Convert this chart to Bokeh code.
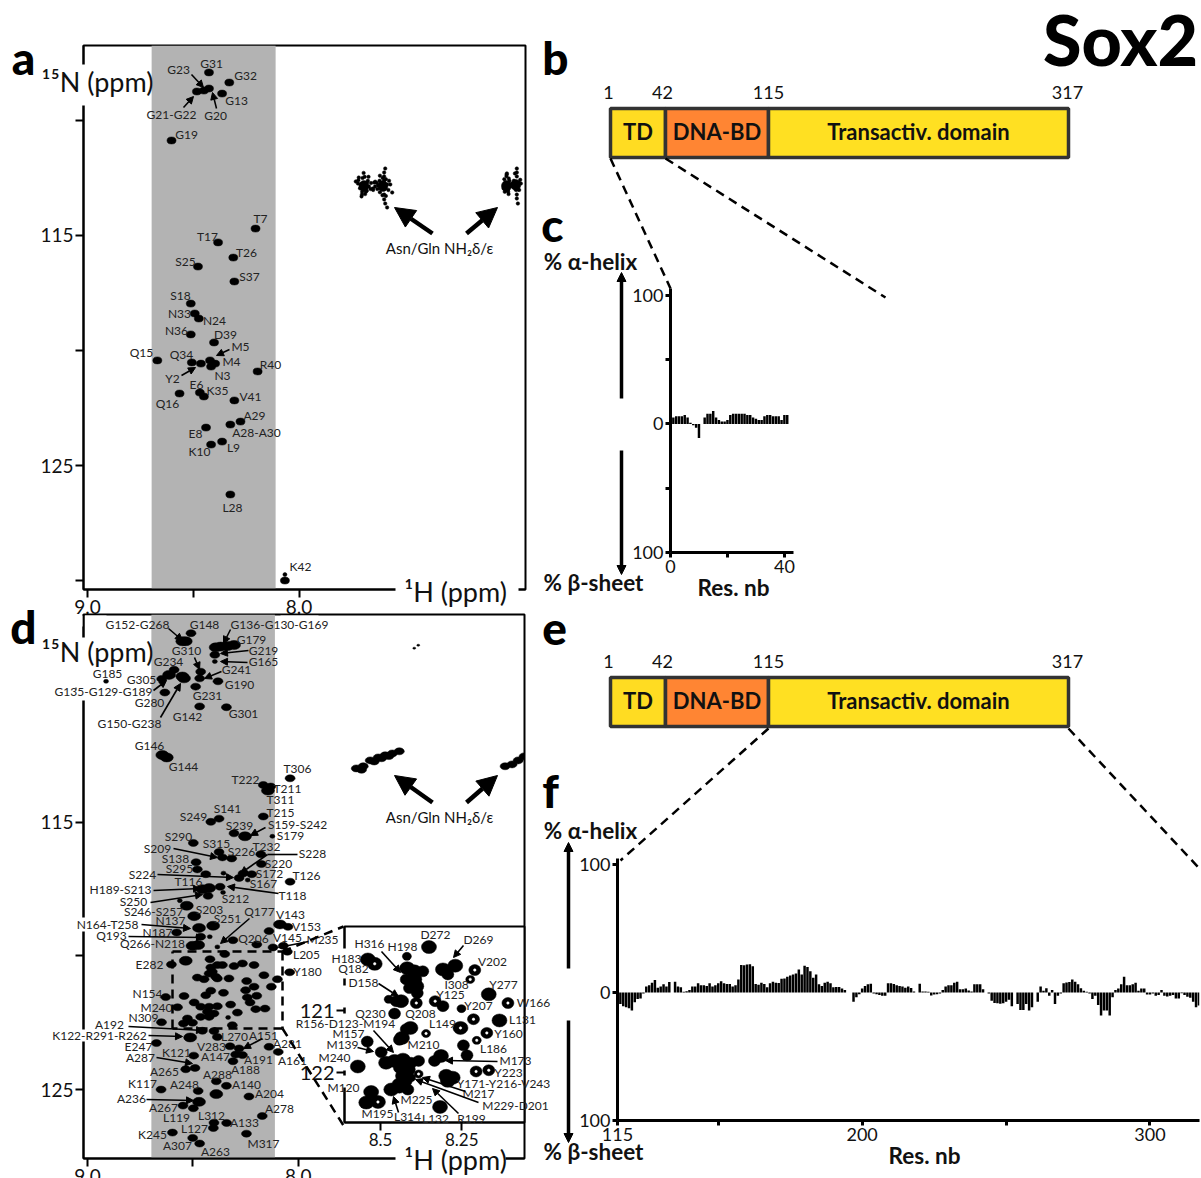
from bokeh.plotting import figure
from bokeh.layouts import column
from bokeh.models import Range1d, FixedTicker, BoxAnnotation, Arrow, NormalHead, ColumnDataSource
from bokeh.core.properties import value
from bokeh.embed import file_html
from bokeh.resources import INLINE

FONT = "Lato"
HEAVY = "Lato Black, Lato"
OFF = 0

# ---------- panel a: 1H / 15N peaks (ppm)
a_h = [8.426,8.330,8.364,8.426,8.450,8.483,8.603,8.206,8.383,8.311,8.478,8.306,8.512,8.493,8.474,8.512,8.402,8.670,8.507,8.464,8.421,8.397,8.416,8.196,8.565,8.469,8.450,8.306,8.277,8.325,8.440,8.364,8.416,8.325,8.067]
a_n = [107.91,108.35,108.83,108.61,108.70,108.74,110.87,114.70,115.30,115.96,116.35,117.00,117.96,118.39,118.61,119.30,119.65,120.43,120.52,120.57,120.43,120.57,120.70,120.91,121.87,121.83,122.00,122.17,123.09,123.22,123.35,123.96,124.09,126.26,130.00]
a_small_h = [8.067]
a_small_n = [129.74]
a_nh2_h = [7.694,7.679,7.694,7.708,7.670,7.612,7.598,7.584,7.612,7.593,7.627,7.598,7.598,7.593,7.598,7.598,7.593,7.584,7.722,7.732,7.569,7.560,7.641,7.651,7.703,7.684,7.718,7.024,7.014,7.024,7.033,7.009,7.019,6.976,6.962,6.976,6.990,6.952,6.971,6.971,6.971,6.971,6.971,6.966,
           7.720,7.712,7.702,7.690,7.675,7.662,7.650,7.640,7.630,7.620,7.605,7.590,7.578,7.700,7.688,7.672,7.660,7.645,7.632,7.618,7.606,7.575,7.695,7.705,7.680,7.618,7.606,7.590,7.030,7.020,7.010,6.995,6.985,6.975,6.965,6.955,7.028,7.012,6.980,6.960,7.018,7.006]
a_nh2_n = [112.78,112.70,112.91,112.78,112.87,112.74,112.61,112.78,112.96,112.96,112.83,112.43,112.26,112.09,113.22,113.43,113.61,113.78,112.74,112.65,112.78,113.13,112.87,112.96,113.22,113.09,112.48,112.87,113.04,112.70,112.96,112.52,112.35,112.78,112.70,112.96,112.87,112.74,112.43,112.26,112.09,113.22,113.39,113.61,
           112.60,112.95,113.10,112.45,112.62,112.98,113.02,112.66,112.98,112.62,112.50,112.55,113.02,112.50,113.20,112.45,112.72,112.70,112.72,112.40,112.75,112.62,112.28,113.30,113.05,113.12,113.25,113.28,112.55,112.42,113.20,112.75,112.62,113.02,113.00,112.58,113.10,113.10,112.30,113.02,112.30,112.62]
a_core_h = [7.694,7.604,7.020,6.976]
a_core_n = [112.85,112.85,112.85,112.80]

# ---------- panel d peaks (ppm), by apparent peak size
d_wide_h = [8.534,8.550,8.368,8.336,8.305,8.392,8.613,8.550,8.542,8.645,8.624,8.144,8.253,8.423,8.455,8.529,8.494,8.404,8.471,8.087,8.502,8.475,8.534,8.513,8.389,8.471]
d_wide_n = [108.22,108.22,108.42,108.40,108.36,108.45,109.48,109.54,109.61,112.48,112.57,113.81,115.52,117.46,117.50,118.12,118.51,118.87,118.95,118.82,119.62,119.59,120.18,123.05,125.17,125.46]
d_small_h = [8.396,8.912,8.355,8.240,8.123,8.357,8.562,8.420,8.384,8.333]
d_small_n = [108.98,109.72,116.90,117.16,115.52,117.62,117.93,119.28,119.66,122.30]
d_med_h = [8.509,8.396,8.463,8.468,8.381,8.487,8.468,8.341,8.589,8.648,8.633,8.039,8.166,8.131,8.166,8.376,8.415,8.305,8.498,8.376,8.360,8.316,8.178,8.175,8.485,8.479,8.439,8.281,8.262,8.221,8.039,8.371,8.428,8.049,8.139,8.577,8.463,8.310,8.197,8.120,8.071,8.052,8.349,8.602,8.041,
           8.419,8.415,8.384,8.360,8.305,8.265,8.210,8.408,8.392,8.423,8.479,8.447,8.384,8.329,8.163,8.099,8.245,8.210,8.250,8.128,8.197,8.242,8.229,8.415,8.439,8.355,8.542,8.629,8.573,8.494,8.321,8.289,8.202,8.158,8.463,8.423,8.384,8.431,8.400,8.463,8.423,8.526,8.545,8.502,8.313,8.455,8.400,8.649,8.384,
           8.324,8.281,8.139,8.095,8.297,8.265,8.310,8.496,8.673,8.534,8.490,8.389,8.341,8.651,8.475,8.234,8.547,8.498,8.171,8.400,8.340,8.403,8.246,8.597,8.501,8.468]
d_med_n = [107.92,108.73,109.36,109.61,109.72,109.92,110.66,110.69,109.29,109.63,110.14,113.35,113.60,113.66,114.78,114.86,114.98,115.41,115.77,116.11,116.31,116.35,116.19,116.56,116.49,116.76,116.94,117.08,116.91,116.94,117.22,117.41,117.75,118.91,119.07,119.12,119.28,119.41,119.57,119.68,119.62,119.84,119.93,120.32,120.61,
           120.12,120.43,120.34,120.34,120.38,120.28,120.34,120.59,120.78,120.66,120.81,120.87,120.84,120.84,120.72,120.87,120.94,121.15,121.28,121.15,121.49,121.55,121.74,121.30,121.47,121.38,121.50,121.54,121.92,121.74,121.82,122.12,121.99,121.97,121.90,121.90,121.88,122.09,122.15,122.28,122.28,122.34,122.53,122.50,122.59,122.80,122.81,122.48,123.03,
           123.38,123.46,123.40,123.59,123.69,123.71,123.94,123.73,123.26,124.24,124.19,124.69,124.86,125.00,125.05,125.26,125.60,125.70,125.99,126.24,126.25,126.44,126.65,126.61,126.81,127.02]
d_nh2_h = [7.725,7.692,7.659,7.621,7.588,7.554,7.521,7.019,6.986,6.957,6.929,7.700,7.640,7.605,7.570]
d_nh2_n = [112.98,112.90,112.68,112.57,112.49,112.42,112.34,112.90,112.83,112.68,112.53,113.03,112.72,112.60,112.52]
d_top_h = [7.450,7.431]
d_top_n = [108.48,108.37]

# ---------- inset peaks (ppm)
ins_large_h = [8.351,8.270,8.308,8.167,8.134,8.254,8.396,8.418,8.396,8.390,8.437,8.408,8.434,8.457,8.431,8.483,8.416,8.298,8.278,8.293,8.431,8.442,8.467,8.529,8.544,8.508,8.317,8.539,8.518,8.570,8.314]
ins_large_n = [119.98,120.28,120.34,120.74,121.16,121.28,120.37,120.32,120.50,120.61,120.85,121.28,121.44,121.81,121.79,121.84,121.95,122.05,122.08,122.13,122.05,122.19,122.27,122.31,122.48,122.47,122.55,120.18,120.25,121.90,121.73]
ins_med_h = [8.293,8.210,8.108,8.214,8.173,8.245,8.234,8.332,8.308,8.390,8.452,8.457,8.370,8.387,8.411,8.421,8.442,8.541,8.498,8.406,8.383,8.442,8.334,8.206,8.167,8.421,8.416,8.442,8.421]
ins_med_n = [120.42,120.35,120.88,121.14,121.36,121.56,121.72,120.85,120.93,120.88,120.85,121.05,120.37,120.72,120.64,121.30,121.47,121.50,121.67,121.84,121.81,121.92,121.81,121.98,121.96,122.13,122.27,122.24,120.50]
ins_small_h = [8.419,8.251,8.204,8.360,8.475,8.406,8.383,8.224]
ins_small_n = [120.13,120.97,121.48,121.37,120.82,122.08,122.02,120.50]
ins_ring_h = [8.254,8.508,8.518,8.210,8.108,8.214,8.173,8.332,8.390,8.206,8.167,8.204,8.360,8.383,8.224]
ins_ring_n = [121.28,122.47,120.25,120.35,120.88,121.14,121.36,120.85,120.88,121.98,121.96,121.48,121.37,122.02,120.50]

# ---------- panel c / f: secondary structure propensity (%)
c_values = [5,6,6,6,7,5,1,-1,-3,-11,0,5,8,8,10,5,3,2,2,3,7,8,8,8,8,8,7,7,5,4,3,3,6,7,7,6,6,6,3,7,7]
f_values = [-9.0,-10.8,-11.5,-12.3,-14.1,-7.7,-5.1,-4.6,-0.8,4.6,5.6,7.7,9.7,3.8,4.6,6.4,4.6,8.2,0,8.4,4.6,4.1,0.5,1,2,4.6,4.6,7.2,5.6,5.6,5.1,7.2,4.6,5.6,7.2,8.7,7.2,6.7,6.7,4.6,5.6,10.2,21.5,21.2,21.8,22,20.5,6.7,6.1,7.7,6.7,4.1,7.2,8.4,7.7,7.4,10.8,11,12.3,13.3,14.1,14.8,17.9,14.1,21,20,16.6,11.5,14.1,6.4,5.1,7.7,8.4,7.2,4.1,4.4,4.4,3.1,2,0,0,-7.2,-3.8,-1.3,3.1,5.1,6.4,6.9,-0.8,-1.3,-2,-2.6,-2.6,7.2,7.2,6.7,5.6,5.1,4.6,3.8,4.6,3.6,0.8,0,6.9,0.8,0.8,0.5,-2.3,-1.5,-1.3,-0.8,2,4.6,5.6,5.6,7.7,8.4,2.6,2.6,3.1,1.5,0.8,6.4,6.4,6.4,2.6,0,-0.8,-6.4,-8.2,-8.4,-8.7,-8.4,-7.2,-5.6,-10.8,0,-9,-13.6,-13.6,-9,-14.1,-11.5,0,-7.2,4.6,1.3,3.3,-2.6,2,-9,-2.6,-0.8,7.2,7.9,8.2,10.2,8.4,6.4,3.3,1.3,0.5,-0.8,-5.1,-2.6,-9.7,-17.9,-14.1,-14.1,-17.9,-3.8,2,3.1,6.4,12.3,5.6,5.6,6.4,7.7,1.3,3.1,3.1,-1.5,-1.5,-0.8,-2.6,-2,2,-2.6,-3.1,-2.6,-2,-4.6,-4.6,-0.5,-2,-3.3,-4.1,-7.2,-11.5,-10.2]
c_res = list(range(1, 1 + len(c_values)))
f_res = list(range(116, 116 + len(f_values)))

# ---------- domain schematic
domain_names = ["TD", "DNA-BD", "Transactiv. domain"]
domain_colors = ["#FFDC22", "#FF8533", "#FFE022"]
domain_numbers = ["1", "42", "115", "317"]

# ---------- annotation texts
a_labels = [("G31",211,63),("G23",178,69),("G32",245,75),("G13",236,100),("G20",215,115),("G21-G22",171,114),("G19",186,134),("T7",260,218),("T17",207,236),("T26",246,252),("S25",185,261),("S37",249,276),("S18",180,295),("N33",179,313),("N24",214,320),("N36",176,330),("D39",225,334),("M5",240,346),("Q15",141,352),("Q34",181,354),("M4",231,361),("R40",270,364),("Y2",172,378),("N3",222,375),("E6",196,384),("K35",217,390),("Q16",167,403),("V41",250,396),("A29",254,415),("A28-A30",256,432),("E8",195,433),("K10",199,451),("L9",233,447),("L28",232,507),("K42",300,566)]
d_labels = [("G152-G268",137,624),("G148",204,624),("G136-G130-G169",279,624),("G179",251,639),("G310",186,650),("G219",263,650),("G165",263,661),("G234",168,661),("G241",236,669),("G185",107,673),("G305",141,679),("G190",239,684),("G135-G129-G189",103,691),("G231",207,695),("G280",149,702),("G142",187,716),("G301",243,713),("G150-G238",129,723),("G146",149,745),("G144",183,766),("T306",297,768),("T222",245,779),("T211",287,788),("T311",280,799),("T215",280,812),("S141",227,808),("S249",193,816),("S239",239,825),("S159-S242",297,824),("S179",290,835),("S290",178,836),("S315",216,843),("S209",157,848),("S226",241,851),("T232",266,846),("S228",312,853),("S138",175,858),("S220",278,863),("S295",179,868),("S172",269,873),("T126",306,875),("S224",142,874),("T116",188,881),("S167",263,883),("H189-S213",120,889),("T118",292,895),("S250",133,901),("S212",235,898),("S246-S257",153,911),("S203",209,909),("Q177",259,911),("V143",290,914),("S251",227,918),("N137",170,920),("V153",306,926),("N164-T258",107,924),("N187",157,932),("Q193",111,935),("V145",287,937),("Q206",253,938),("M235",322,939),("Q266-N218",152,943),("L205",306,954),("E282",149,964),("Y180",307,971),("N154",147,993),("M240",156,1007),("N309",143,1017),("A192",109,1024),("K122-R291-R262",99,1035),("L270",234,1036),("A151",263,1035),("A281",287,1043),("E247",138,1046),("V283",211,1046),("K121",176,1052),("A147",215,1056),("A287",140,1057),("A191",258,1059),("A161",292,1060),("A188",245,1069),("A265",164,1071),("A288",217,1074),("K117",142,1083),("A248",184,1084),("A140",246,1084),("A204",269,1093),("A236",131,1098),("A267",163,1107),("A278",279,1108),("L119",176,1117),("L312",211,1115),("A133",244,1122),("L127",194,1128),("K245",152,1134),("M317",263,1143),("A307",177,1145),("A263",215,1151)]
inset_labels = [("D272",435,934),("D269",478,939),("H316",369,943),("H198",402,946),("V202",492,961),("H183",346,958),("Q182",353,968),("Y277",503,984),("I308",456,984),("D158",363,982),("Y125",450,994),("Y207",478,1005),("W166",533,1002),("Q230",370,1013),("Q208",420,1013),("L149",442,1023),("L131",522,1019),("R156-D123-M194",345,1023),("Y160",508,1033),("M157",348,1033),("M139",342,1044),("M210",423,1044),("L186",493,1048),("M173",515,1060),("M240",334,1057),("Y223",508,1072),("Y171-Y216-V243",503,1083),("M120",343,1087),("M217",478,1093),("M229-D201",515,1105),("M225",416,1099),("R199",471,1118),("M195",377,1113),("L314",407,1116),("L132",435,1118)]

thin_arrows = [(191,74,203,87),(183,107,193,96),(216,108,212,92),(229,349,216,355),(181,375,195,367),
  (168,628,182,640),(230,629,223,643),(248,650,220,653),(247,662,220,661),(194,657,199,669),(221,671,204,678),(153,690,166,680),(160,717,180,683),(265,827,250,835),(173,848,217,857),(267,854,240,873),(157,874,233,877),(153,890,200,888),(278,893,227,886),(150,902,202,894),(141,924,190,928),(128,936,203,937),(249,918,220,943),(308,941,278,947),(128,1026,203,1030),(148,1035,182,1036),(262,1038,243,1048),(156,1057,192,1063),(146,1099,193,1100),
  (463,945,453,957),(381,951,400,972),(378,983,398,996),(373,1030,393,1052),(357,1047,373,1051),(497,1061,445,1060),(465,1091,422,1077),(478,1102,415,1079),(458,1113,432,1088),(398,1112,393,1096)]
big_arrows = [(432,233,394,207),(466,233,497,207),(432,802,394,775),(466,802,497,775)]
axis_arrows = [(621,398,621,272),(621,450,621,574),(568,968,568,842),(568,1020,568,1142)]
dashed = [(610,158,670,288),(665,158,885,297),(768,728,620,860),(1068,728,1198,867),
          (172,951,282,951),(282,951,282,1028),(282,1028,172,1028),(172,1028,172,951),(282,951,343,926),(282,1028,343,1125)]
white_gaps = [(76,64,92,105),(76,637,92,700),(395,584,518,596),(395,1153,505,1165),
              (339,948,347,978),(339,985,347,1007),(339,1013,347,1070),(339,1075,347,1087),
              (70,615,82,626),(84.5,615,106,626),(280,615,318,626),(80,917,86,931),(80,1029,86,1041)]


def place(fig, x, y):
    fig.frame_align = False
    fig.margin = (y - OFF, 0, -(y - OFF + fig.height), x - OFF)
    return fig


def style_axis(ax, ticks, labels, size="19px", width=2, out=8):
    ax.ticker = FixedTicker(ticks=ticks)
    ax.major_label_overrides = labels
    ax.major_tick_in = 0
    ax.major_tick_out = out
    ax.minor_tick_line_color = None
    ax.axis_line_width = width
    ax.major_tick_line_width = width
    ax.axis_line_color = "black"
    ax.major_tick_line_color = "black"
    ax.major_label_text_font = FONT
    ax.major_label_text_font_size = size
    ax.major_label_text_color = "#111111"
    ax.major_label_standoff = 2


def spectrum(x0, y0, w, h, bl, br, bt, bb, xr, yr):
    p = figure(width=w, height=h, x_range=Range1d(*xr), y_range=Range1d(*yr), toolbar_location=None,
               output_backend="svg", min_border_left=bl, min_border_right=br, min_border_top=bt, min_border_bottom=bb,
               background_fill_color=None, border_fill_color=None)
    p.grid.visible = False
    p.outline_line_color = "black"
    p.outline_line_width = 2
    p.outline_line_alpha = 1
    return place(p, x0, y0)


def blobs(p, h, n, w, ht, color="black"):
    p.ellipse(x=h, y=n, width=w, height=ht, width_units="screen", height_units="screen",
              fill_color=color, line_color=color, line_width=0.5)


PPM_X = [9.0, 8.5, 8.0]
PPM_X_LAB = {9.0: "9.0", 8.5: "", 8.0: "8.0"}

# panel a  (frame 83..525 x 45..589)
pa = spectrum(8, 30, 522, 594, 75, 5, 15, 35, (9.019, 6.93), (130.39, 106.74))
pa.add_layout(BoxAnnotation(left=8.697, right=8.111, fill_color="#b3b3b3", fill_alpha=1, line_color=None, level="underlay"))
style_axis(pa.xaxis[0], PPM_X, PPM_X_LAB)
style_axis(pa.yaxis[0], [110, 115, 120, 125, 130], {110: "", 115: "115", 120: "", 125: "125", 130: ""})
blobs(pa, a_h, a_n, 9, 7)
blobs(pa, a_small_h, a_small_n, 4, 4)
blobs(pa, a_nh2_h, a_nh2_n, 3.5, 3.5)
blobs(pa, a_core_h, a_core_n, 10, 11)

# panel d  (frame 83..524 x 614..1158)
pd = spectrum(8, 600, 522, 593, 75, 6, 14, 35, (9.019, 6.927), (127.58, 107.22))
pd.add_layout(BoxAnnotation(left=8.697, right=8.111, fill_color="#b3b3b3", fill_alpha=1, line_color=None, level="underlay"))
style_axis(pd.xaxis[0], PPM_X, PPM_X_LAB)
style_axis(pd.yaxis[0], [110, 115, 120, 125], {110: "", 115: "115", 120: "", 125: "125"})
blobs(pd, d_wide_h, d_wide_n, 13, 9)
blobs(pd, d_med_h, d_med_n, 10, 7)
blobs(pd, d_small_h, d_small_n, 5, 4)
blobs(pd, d_nh2_h, d_nh2_n, 10, 7)
blobs(pd, d_top_h, d_top_n, 3, 2)

# inset of d  (frame 343..524 x 926..1122)
pi = spectrum(296, 915, 234, 242, 47, 6, 11, 35, (8.611, 8.057), (122.80, 119.65))
pi.background_fill_color = "white"
style_axis(pi.xaxis[0], [8.5, 8.25], {8.5: "8.5", 8.25: "8.25"}, size="17px")
style_axis(pi.yaxis[0], [121, 122], {121: "121", 122: "122"}, size="20px")
blobs(pi, ins_large_h, ins_large_n, 15, 13)
blobs(pi, ins_med_h, ins_med_n, 12, 11)
blobs(pi, ins_small_h, ins_small_n, 9, 8)
blobs(pi, ins_ring_h, ins_ring_n, 2.5, 2.5, color="white")


def bars(x0, y0, w, h, bl, br, bt, bb, xr, yr, res, vals, xticks, xlabs, yticks, ylabs):
    p = figure(width=w, height=h, x_range=Range1d(*xr), y_range=Range1d(*yr), toolbar_location=None,
               output_backend="svg", min_border_left=bl, min_border_right=br, min_border_top=bt, min_border_bottom=bb,
               background_fill_color=None, border_fill_color=None)
    p.grid.visible = False
    p.outline_line_color = None
    p.vbar(x=res, top=vals, bottom=0, width=0.86, fill_color="black", line_color=None)
    style_axis(p.xaxis[0], xticks, xlabs, size="18px", width=3, out=5)
    style_axis(p.yaxis[0], yticks, ylabs, size="18px", width=3, out=5)
    return place(p, x0, y0)


pc = bars(625, 280, 175, 320, 45, 7, 8, 48, (0, 43.2), (-100, 105.4), c_res, c_values,
          [0, 20, 40], {0: "0", 20: "", 40: "40"}, [100, 50, 0, -50, -100], {100: "100", 50: "", 0: "0", -50: "", -100: "100"})
pf = bars(575, 850, 626, 328, 42, 2, 8, 58, (115, 317.2), (-100, 104.7), f_res, f_values,
          [115, 150, 200, 250, 300], {115: "115", 150: "", 200: "200", 250: "", 300: "300"}, [100, 0, -100], {100: "100", 0: "0", -100: "100"})

# overlay in page pixels: schematics, annotation, labels
top = figure(width=1201, height=1178, x_range=Range1d(0, 1201), y_range=Range1d(1178, 0), toolbar_location=None,
             output_backend="svg", min_border=0, background_fill_color=None, border_fill_color=None,
             outline_line_color=None)
top.axis.visible = False
top.grid.visible = False
place(top, 0, 0)

top.quad(left=[g[0] for g in white_gaps], bottom=[g[3] for g in white_gaps], right=[g[2] for g in white_gaps],
         top=[g[1] for g in white_gaps], fill_color="white", line_color=None)


def put(items, size, bold=False, color="#222222", font=FONT):
    top.text(x=[i[1] for i in items], y=[i[2] for i in items], text=[i[0] for i in items],
             text_font=value(font), text_font_size=size, text_font_style="bold" if bold else "normal",
             text_color=color, text_align="center", text_baseline="middle")


put(a_labels, "12px")
put(d_labels, "12px")
put(inset_labels, "12px")

for (tx, ty) in [(97, 81), (97, 651)]:
    put([("¹⁵N (ppm)", tx, ty)], "27px", color="#111111")
for (tx, ty) in [(455, 591), (455, 1159)]:
    put([("¹H (ppm)", tx, ty)], "27px", color="#111111")
for ty in (247, 816):
    put([("Asn/Gln NH₂δ/ε", 439, ty)], "15px", color="#111111")

put([("a", 23, 57), ("b", 555, 57), ("c", 552, 224), ("d", 23, 626), ("e", 554, 628), ("f", 550, 790)], "46px", True, "black", HEAVY)
put([("Sox2", 1120, 38)], "70px", True, "black", HEAVY)
put([("% α-helix", 590, 261), ("% β-sheet", 593, 582), ("% α-helix", 590, 830), ("% β-sheet", 593, 1151),
     ("Res. nb", 733, 587), ("Res. nb", 924, 1155)], "22.5px", True, "#111111")

edges = [610, 665, 768, 1068]
for (ytop, ynum) in [(108, 92), (677, 661)]:
    ybot = ytop + 49
    top.quad(left=edges[:-1], right=edges[1:], top=[ytop] * 3, bottom=[ybot] * 3,
             fill_color=domain_colors, line_color="#333333", line_width=3.5)
    put([(domain_names[i], (edges[i] + edges[i + 1]) / 2, ytop + 23) for i in range(3)], "22px", True, "#111111")
    put([(domain_numbers[0], 608, ynum), (domain_numbers[1], 662, ynum), (domain_numbers[2], 768, ynum), (domain_numbers[3], 1067, ynum)], "18px", color="#111111")

top.segment(x0=[d[0] for d in dashed], y0=[d[1] for d in dashed], x1=[d[2] for d in dashed], y1=[d[3] for d in dashed],
            line_color="black", line_width=2.5, line_dash="9 6")
top.line(x=[297, 267], y=[854, 854], line_color="black", line_width=1.6)


def arrows(items, head, lw):
    src = ColumnDataSource(dict(x0=[a[0] for a in items], y0=[a[1] for a in items], x1=[a[2] for a in items], y1=[a[3] for a in items]))
    top.add_layout(Arrow(end=NormalHead(size=head, fill_color="black", line_color="black"), source=src,
                         x_start="x0", y_start="y0", x_end="x1", y_end="y1", line_color="black", line_width=lw))


arrows(thin_arrows, 7, 1.6)
arrows(big_arrows, 20, 4.5)
arrows(axis_arrows, 9, 3.5)

page = column(pa, pd, pi, pc, pf, top, width=1201, height=1178, styles={"overflow": "hidden"})
open("out.html", "w").write(file_html(page, INLINE))
